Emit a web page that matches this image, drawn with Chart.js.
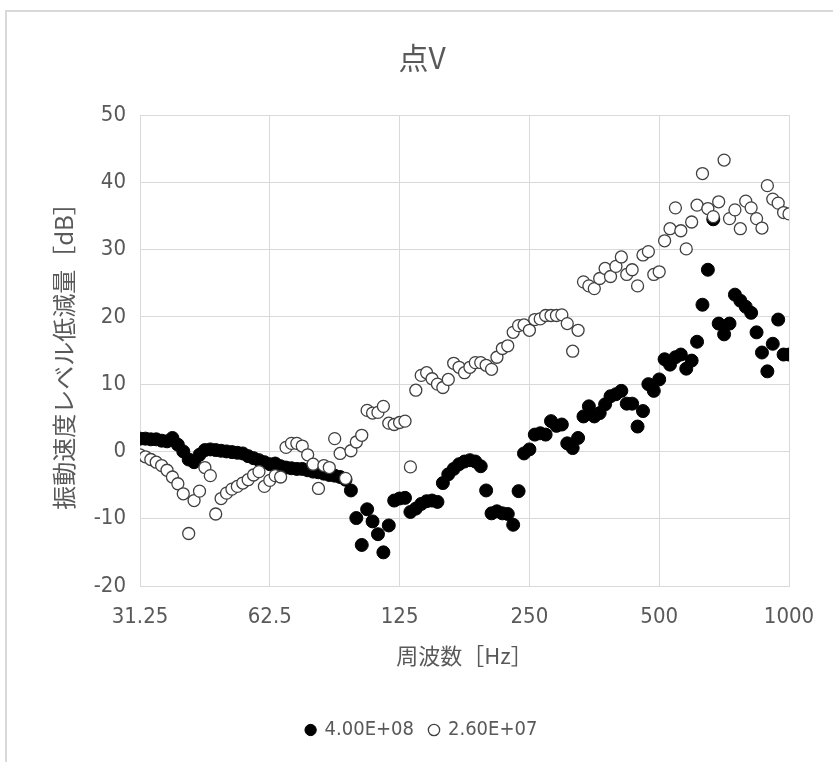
<!DOCTYPE html>
<html>
<head>
<meta charset="utf-8">
<script src="https://cdn.jsdelivr.net/npm/chart.js@4.4.1/dist/chart.umd.min.js"></script>
<style>
  html, body { margin: 0; padding: 0; background: #fff; overflow: hidden; width: 833px; height: 762px; }
  #frame { position: absolute; left: 5px; top: 10px; width: 900px; height: 800px;
           border-left: 2px solid #d9d9d9; border-top: 2px solid #d9d9d9; }
  #wrap { position: absolute; left: 0; top: 0; width: 833px; height: 762px; }
</style>
</head>
<body>
<div id="frame"></div>
<div id="wrap"><canvas id="chart" width="833" height="762"></canvas></div>
<script>
// 1/24 octave bands, 31.25 - 1000 Hz
var freqs = [
  31.25, 32.17, 33.11, 34.08, 35.08, 36.10, 37.16, 38.25, 39.37, 40.53, 41.71, 42.94,
  44.19, 45.49, 46.82, 48.19, 49.61, 51.06, 52.56, 54.10, 55.68, 57.31, 58.99, 60.72,
  62.5, 64.33, 66.22, 68.16, 70.15, 72.21, 74.33, 76.50, 78.75, 81.05, 83.43, 85.87,
  88.39, 90.98, 93.64, 96.39, 99.21, 102.12, 105.11, 108.19, 111.36, 114.63, 117.98, 121.44,
  125, 128.66, 132.43, 136.31, 140.31, 144.42, 148.65, 153.01, 157.49, 162.11, 166.86, 171.74,
  176.78, 181.96, 187.29, 192.78, 198.43, 204.24, 210.22, 216.39, 222.72, 229.25, 235.97, 242.88,
  250, 257.33, 264.87, 272.63, 280.62, 288.84, 297.30, 306.01, 314.98, 324.21, 333.71, 343.48,
  353.55, 363.91, 374.58, 385.55, 396.85, 408.48, 420.45, 432.77, 445.45, 458.50, 471.94, 485.77,
  500, 514.65, 529.73, 545.25, 561.23, 577.68, 594.60, 612.03, 629.96, 648.42, 667.42, 686.98,
  707.11, 727.83, 749.15, 771.11, 793.70, 816.96, 840.90, 865.54, 890.90, 917.00, 943.87, 971.53,
  1000
];

// 4.00E+08 (filled)
var series1 = [
  1.9, 1.9, 1.8, 1.8, 1.6, 1.5, 2.0, 1.0, 0.0, -1.2, -1.6, -0.5,
  0.2, 0.3, 0.2, 0.1, 0.0, -0.1, -0.2, -0.3, -0.7, -1.0, -1.3, -1.6,
  -1.9, -1.8, -2.2, -2.4, -2.5, -2.6, -2.6, -2.8, -3.0, -3.1, -3.3, -3.5,
  -3.6, -3.8, -4.2, -5.8, -9.9, -13.9, -8.6, -10.4, -12.3, -15.0, -11.0, -7.3,
  -7.0, -6.9, -9.0, -8.5, -7.8, -7.4, -7.3, -7.5, -4.7, -3.4, -2.6, -1.9,
  -1.5, -1.3, -1.5, -2.2, -5.8, -9.2, -8.9, -9.2, -9.3, -10.9, -5.9, -0.3,
  0.3, 2.5, 2.7, 2.5, 4.5, 3.8, 4.0, 1.2, 0.5, 2.0, 5.2, 6.7,
  5.2, 5.7, 7.0, 8.2, 8.5, 9.0, 7.1, 7.1, 3.7, 6.0, 10.0, 9.0,
  10.7, 13.7, 12.9, 14.0, 14.4, 12.3, 13.5, 16.3, 21.8, 27.0, 34.5, 19.0,
  17.4, 19.0, 23.3, 22.4, 21.5, 20.6, 17.7, 14.7, 11.9, 16.0, 19.6, 14.4,
  14.4
];

// 2.60E+07 (open)
var series2 = [
  -0.5, -0.8, -1.2, -1.6, -2.1, -2.8, -3.8, -4.8, -6.3, -12.2, -7.3, -5.9,
  -2.4, -3.6, -9.3, -7.0, -6.2, -5.6, -5.2, -4.7, -4.2, -3.5, -3.0, -5.2,
  -4.3, -3.6, -3.8, 0.6, 1.2, 1.2, 0.8, -0.5, -1.9, -5.5, -2.1, -2.4,
  1.9, -0.3, -4.0, 0.1, 1.4, 2.4, 6.1, 5.7, 5.8, 6.7, 4.2, 4.0,
  4.3, 4.5, -2.3, 9.1, 11.3, 11.7, 10.8, 10.0, 9.5, 10.7, 13.1, 12.5,
  11.7, 12.5, 13.2, 13.2, 12.8, 12.2, 14.0, 15.3, 15.7, 17.7, 18.7, 18.8,
  18.0, 19.6, 19.7, 20.2, 20.2, 20.2, 20.3, 19.0, 14.9, 18.0, 25.2, 24.6,
  24.2, 25.7, 27.2, 26.0, 27.5, 28.9, 26.3, 27.0, 24.6, 29.2, 29.7, 26.3,
  26.7, 31.3, 33.1, 36.2, 32.8, 30.1, 34.1, 36.6, 41.3, 36.1, 34.9, 37.1,
  43.3, 34.6, 35.9, 33.1, 37.2, 36.2, 34.6, 33.2, 39.5, 37.5, 36.9, 35.5,
  35.3
];

var seriesNames = ['4.00E+08', '2.60E+07'];
var xTicks = [31.25, 62.5, 125, 250, 500, 1000];
var xTickLabels = ['31.25', '62.5', '125', '250', '500', '1000'];

var numFont = "'Liberation Sans Narrow', 'DejaVu Sans Condensed', 'Liberation Sans', sans-serif";
var jpFont = "'Noto Sans CJK JP', sans-serif";
var textColor = '#595959';
var gridColor = '#d9d9d9';

function toPoints(vals){
  return vals.map(function(v, i){ return {x: freqs[i], y: v}; });
}

var ctx = document.getElementById('chart').getContext('2d');
var myChart = new Chart(ctx, {
  type: 'scatter',
  data: {
    datasets: [{
      label: seriesNames[0],
      data: toPoints(series1),
      yAxisID: 'y',
      pointRadius: 6.5,
      pointBorderWidth: 1,
      pointBackgroundColor: '#000',
      pointBorderColor: '#000',
      backgroundColor: '#000',
      borderColor: '#000',
      order: 1
    },
    {
      label: seriesNames[1],
      data: toPoints(series2),
      yAxisID: 'y',
      pointRadius: 6,
      pointBorderWidth: 1.3,
      pointBackgroundColor: '#fff',
      pointBorderColor: '#404040',
      backgroundColor: '#fff',
      borderColor: '#404040',
      order: 0
    }]
  },
  options: {
    responsive: false,
    animation: false,
    events: [],
    layout: {
      padding: {left: 12, right: 1, top: 0, bottom: 12}
    },
    scales: {
      x: {
        type: 'logarithmic',
        min: 31.25,
        max: 1000,
        afterBuildTicks: function(scale){
          scale.ticks = xTicks.map(function(v){ return {value: v}; });
        },
        afterFit: function(scale){ scale.height = 118; },
        grid: {color: gridColor, drawTicks: false},
        border: {color: gridColor},
        ticks: {
          autoSkip: false,
          maxRotation: 0,
          padding: 18,
          color: textColor,
          font: {family: numFont, size: 22},
          callback: function(value, index){ return xTickLabels[index]; }
        },
        title: {
          display: true,
          text: '周波数［Hz］',
          color: textColor,
          font: {family: jpFont, size: 22},
          padding: {top: 0, bottom: 35}
        }
      },
      y: {
        position: 'left',
        min: -20,
        max: 50,
        afterFit: function(scale){ scale.width = 128; },
        grid: {color: gridColor, drawTicks: false},
        border: {color: gridColor},
        ticks: {
          stepSize: 10,
          padding: 14,
          color: textColor,
          font: {family: numFont, size: 22}
        },
        title: {
          display: true,
          text: '振動速度レベル低減量［dB］',
          color: textColor,
          font: {family: jpFont, size: 24},
          padding: {top: 37, bottom: 0}
        }
      },
      // empty right-hand spacer so title and legend sit centred like the original
      yRight: {
        position: 'right',
        min: 0,
        max: 1,
        afterFit: function(scale){ scale.width = 43; },
        grid: {display: false, drawTicks: false},
        border: {display: false},
        ticks: {display: false}
      }
    },
    plugins: {
      title: {
        display: true,
        text: '点V',
        color: textColor,
        font: {family: jpFont, size: 30, weight: 'normal'},
        padding: {top: 40, bottom: 39}
      },
      legend: {
        display: true,
        position: 'bottom',
        labels: {
          usePointStyle: true,
          boxWidth: 8,
          boxHeight: 8,
          padding: 16,
          color: textColor,
          font: {family: numFont, size: 20},
          sort: function(a, b){ return a.datasetIndex - b.datasetIndex; }
        }
      },
      tooltip: {enabled: false}
    }
  }
});
</script>
</body>
</html>
